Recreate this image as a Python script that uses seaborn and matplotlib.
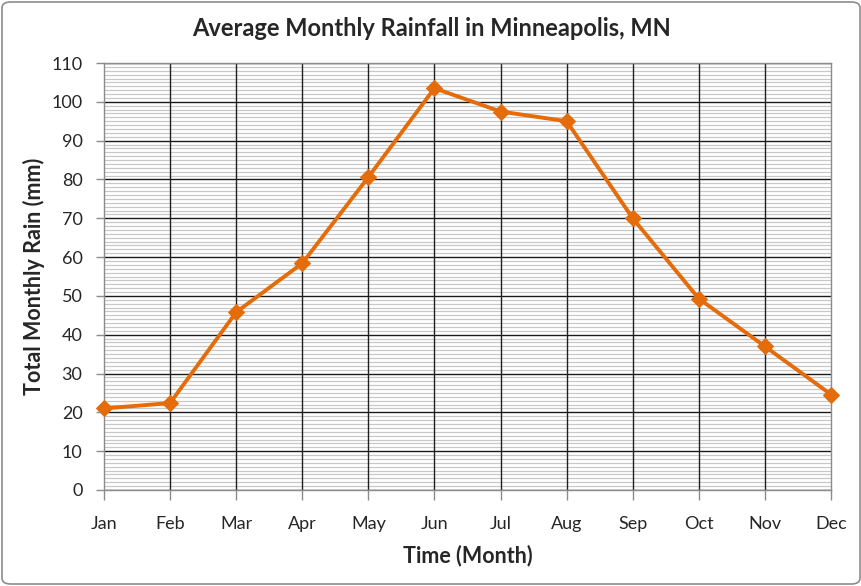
import matplotlib
matplotlib.use("Agg")
import matplotlib.pyplot as plt
import seaborn as sns
import pandas as pd
from matplotlib.patches import FancyBboxPatch
from matplotlib.ticker import MultipleLocator

months = ["Jan", "Feb", "Mar", "Apr", "May", "Jun", "Jul", "Aug", "Sep", "Oct", "Nov", "Dec"]
rain_mm = [21.0, 22.4, 45.8, 58.4, 80.6, 103.5, 97.5, 95.0, 70.0, 49.3, 37.0, 24.6]
y_ticks = list(range(0, 111, 10))

title = "Average Monthly Rainfall in Minneapolis, MN"
xlabel = "Time (Month)"
ylabel = "Total Monthly Rain (mm)"

sns.set_style("white")
plt.rcParams['font.family'] = ['Lato', 'DejaVu Sans']

df = pd.DataFrame({"month": months, "rain": rain_mm, "idx": range(len(months))})

fig = plt.figure(figsize=(8.62, 5.86), dpi=100)
ax = fig.add_axes([104/862, 1-490/586, (831-104)/862, (490-63)/586])

sns.lineplot(data=df, x="idx", y="rain", ax=ax, color="#E46C0A", linewidth=2.8,
             marker="D", markersize=8.5, markeredgecolor="#E46C0A", zorder=5)
for ln in ax.lines:
    ln.set_clip_on(False)

ax.set_xlim(0, len(months) - 1)
ax.set_ylim(0, 110)
ax.set_xticks(range(len(months)))
ax.set_xticklabels(months)
ax.set_yticks(y_ticks)
ax.yaxis.set_minor_locator(MultipleLocator(1))

ax.grid(which="major", axis="y", color="#1a1a1a", linewidth=1.0)
ax.grid(which="minor", axis="y", color="#c8c8c8", linewidth=0.9)
ax.grid(False, axis="x")
ax.vlines(df["idx"].iloc[1:-1], 0, 110, colors="#202020", linewidth=1.0, zorder=1.5)
ax.set_axisbelow(True)

for s in ["left", "bottom", "right", "top"]:
    ax.spines[s].set_color("#8c8c8c")
    ax.spines[s].set_linewidth(1.0)

ax.tick_params(axis="y", which="major", length=6, color="#8c8c8c", width=1, pad=9.5, labelsize=13, direction="out", left=True)
ax.tick_params(axis="y", which="minor", length=0)
ax.tick_params(axis="x", which="major", length=7, color="#8c8c8c", width=1, pad=12, labelsize=13, direction="out", bottom=True)

ax.set_xlabel(xlabel, fontsize=15.5, fontweight="bold", labelpad=8)
ax.set_ylabel(ylabel, fontsize=15.5, fontweight="bold", labelpad=8)
ax.xaxis.set_label_coords(0.5 * (403 + 533) / 862, 1 - 556/586, transform=fig.transFigure)
ax.yaxis.set_label_coords(33.5/862, 1 - 276/586, transform=fig.transFigure)
ax.xaxis.label.set_va("center")
ax.yaxis.label.set_va("center")
fig.text(0.5 * (191 + 672) / 862, 1 - 28/586, title, fontsize=17, fontweight="bold", ha="center", va="center")

border = FancyBboxPatch((2/862, 2/586), 1 - 4/862, 1 - 4/586, boxstyle="round,pad=0,rounding_size=0.01",
                        transform=fig.transFigure, fill=False, edgecolor="#8c8c8c", linewidth=1.2)
fig.patches.append(border)

fig.savefig("out.png", dpi=100, facecolor="white")
